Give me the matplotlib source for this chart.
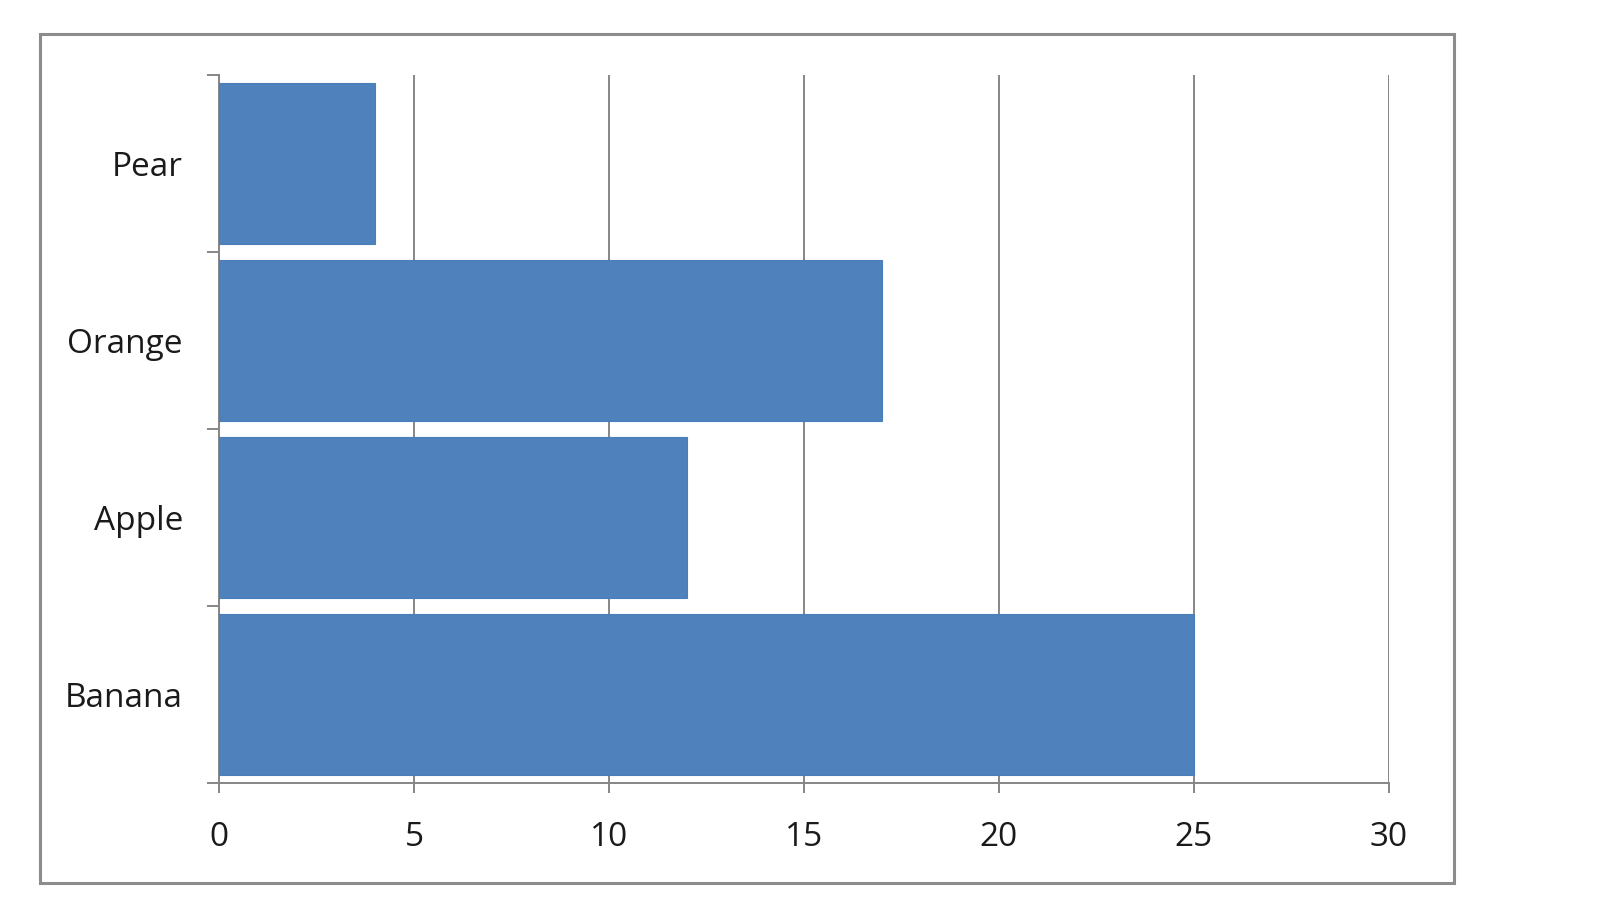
import matplotlib
matplotlib.use("Agg")
from matplotlib import pyplot as plt
from matplotlib.patches import Rectangle
import numpy as np

# Data
fruits = ["Banana", "Apple", "Orange", "Pear"]
counts = [25, 12, 17, 4]
x_ticks = [0, 5, 10, 15, 20, 25, 30]

bar_color = "#4F81BD"
grid_color = "#868686"

plt.rcParams["font.family"] = ["Open Sans", "DejaVu Sans"]

fig = plt.figure(figsize=(16, 9), dpi=100)
fig.patch.set_facecolor("white")

# Outer chart border (Excel style)
fig.patches.append(Rectangle((0.025, 0.019), 0.884, 0.943, transform=fig.transFigure,
                             fill=False, edgecolor="#8c8c8c", linewidth=2.2))

ax = fig.add_axes([0.1369, 0.13, 0.7312, 0.7867])
ypos = np.arange(len(fruits))
ax.barh(ypos, counts, height=0.91, color=bar_color, edgecolor="#4A7EBB",
        linewidth=0.8, zorder=3)

ax.set_xlim(0, 30)
ax.set_ylim(-0.5, len(fruits) - 0.5)

# Vertical gridlines
ax.set_xticks(x_ticks)
ax.xaxis.grid(True, color=grid_color, linewidth=1.4, zorder=0)
ax.set_axisbelow(True)

# Category labels at centers, tick marks at boundaries
ax.set_yticks(ypos)
ax.set_yticklabels(fruits)
ax.set_yticks(np.arange(-0.5, len(fruits), 1), minor=True)
ax.tick_params(axis="y", which="major", length=0, pad=26, labelsize=24)
ax.tick_params(axis="y", which="minor", length=9, width=1.4, color=grid_color)
ax.tick_params(axis="x", which="major", length=7, width=1.4, color=grid_color,
               pad=20, labelsize=24)
for lbl in ax.get_xticklabels() + ax.get_yticklabels():
    lbl.set_fontweight("medium")
    lbl.set_color("#1a1a1a")

for side in ["top", "right"]:
    ax.spines[side].set_visible(False)
for side in ["left", "bottom"]:
    ax.spines[side].set_color(grid_color)
    ax.spines[side].set_linewidth(1.4)

fig.savefig("out.png", dpi=100, facecolor="white")
